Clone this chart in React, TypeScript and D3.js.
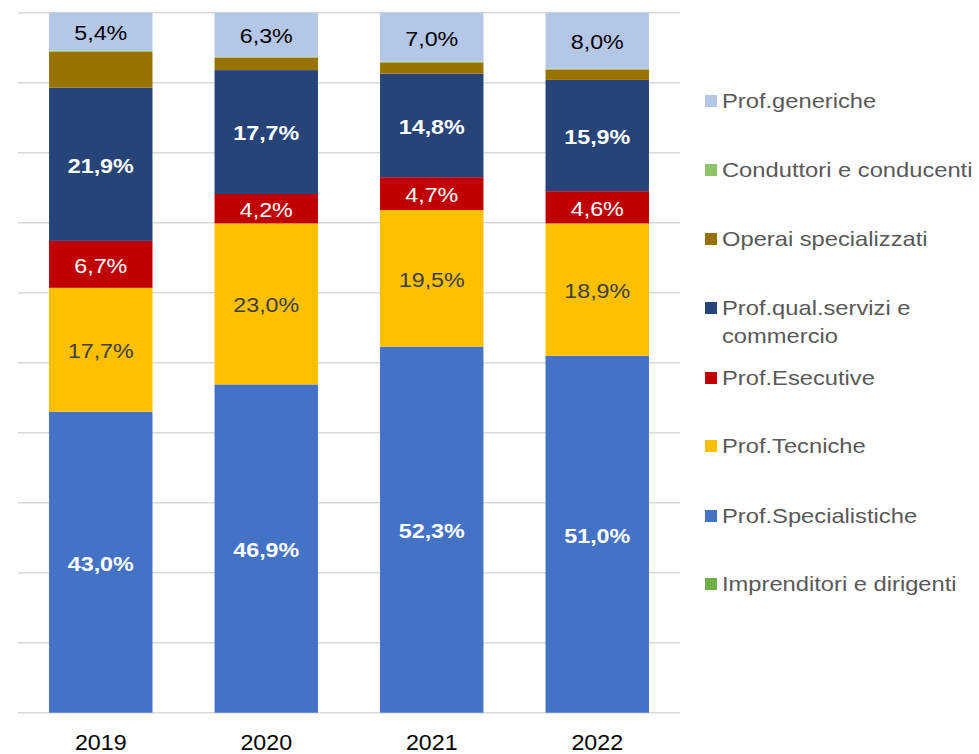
import React from "react";
import * as d3 from "d3";

const years = ["2019", "2020", "2021", "2022"];
const seriesNames = [
  "Imprenditori e dirigenti",
  "Prof.Specialistiche",
  "Prof.Tecniche",
  "Prof.Esecutive",
  "Prof.qual.servizi e commercio",
  "Operai specializzati",
  "Conduttori e conducenti",
  "Prof.generiche",
];
const imprenditori = [0.0, 0.0, 0.0, 0.0];
const specialistiche = [43.0, 46.9, 52.3, 51.0];
const tecniche = [17.7, 23.0, 19.5, 18.9];
const esecutive = [6.7, 4.2, 4.7, 4.6];
const servizi = [21.9, 17.7, 14.8, 15.9];
const operai = [5.1, 1.8, 1.6, 1.5];
const conduttori = [0.2, 0.1, 0.1, 0.1];
const generiche = [5.4, 6.3, 7.0, 8.0];
const yTicks = [0, 10, 20, 30, 40, 50, 60, 70, 80, 90, 100];

const seriesValues = [imprenditori, specialistiche, tecniche, esecutive, servizi, operai, conduttori, generiche];
const colors = ["#70AD47", "#4472C4", "#FFC000", "#C00000", "#264478", "#997300", "#8FC36A", "#B4C7E7"];
const labelStyle: Record<number, { fill: string; weight: string }> = {
  1: { fill: "#FFFFFF", weight: "bold" },
  2: { fill: "#404040", weight: "normal" },
  3: { fill: "#FFFFFF", weight: "normal" },
  4: { fill: "#FFFFFF", weight: "bold" },
  7: { fill: "#000000", weight: "normal" },
};

const legendOrder = [7, 6, 5, 4, 3, 2, 1, 0];
const legendY = [101, 170, 239, 308, 378, 446, 516, 584];

function SText(props: {
  x: number; y: number; s: number; anchor?: string; size: number; fill: string; weight?: string; children: React.ReactNode;
}) {
  return (
    <text
      transform={`translate(${props.x},${props.y}) scale(${props.s},1)`}
      dy="0.35em"
      textAnchor={props.anchor || "start"}
      fontSize={props.size}
      fill={props.fill}
      fontWeight={props.weight || "normal"}
    >
      {props.children}
    </text>
  );
}

export default function App() {
  const W = 979, H = 754;
  const left = 18, right = 680, top = 12.7, bottom = 712.7;
  const x = d3.scaleBand<string>().domain(years).range([left, right]).paddingInner(0.375).paddingOuter(0.1875);
  const y = d3.scaleLinear().domain([0, 100]).range([bottom, top]);

  const table = years.map((yr, i) => {
    const row: Record<string, number | string> = { year: yr };
    seriesNames.forEach((s, k) => (row[s] = seriesValues[k][i]));
    return row;
  });
  const stacked = d3.stack<Record<string, number | string>>().keys(seriesNames)(table as any);
  const font = "'Liberation Sans', Arial, sans-serif";

  return (
    <svg width={W} height={H} style={{ position: "absolute", left: 0, top: 0 }} fontFamily={font}>
      {yTicks.map((t) => (
        <line key={t} x1={left} x2={right} y1={y(t)} y2={y(t)} stroke="#D9D9D9" strokeWidth={1.5} />
      ))}
      {stacked.map((layer, k) => (
        <g key={k} fill={colors[k]}>
          {layer.map((d, i) => {
            const h = y(d[0]) - y(d[1]);
            if (h <= 0) return null;
            return <rect key={i} x={x(years[i])} width={x.bandwidth()} y={y(d[1])} height={h} />;
          })}
        </g>
      ))}
      {stacked.map((layer, k) =>
        labelStyle[k]
          ? layer.map((d, i) => (
              <SText
                key={`${k}-${i}`}
                x={(x(years[i]) as number) + x.bandwidth() / 2}
                y={(y(d[0]) + y(d[1])) / 2 + 1}
                s={1.11}
                anchor="middle"
                size={21}
                fill={labelStyle[k].fill}
                weight={labelStyle[k].weight}
              >
                {seriesValues[k][i].toFixed(1).replace(".", ",")}%
              </SText>
            ))
          : null
      )}
      {years.map((yr) => (
        <SText key={yr} x={(x(yr) as number) + x.bandwidth() / 2} y={742.5} s={1.08} anchor="middle" size={21.5} fill="#000">
          {yr}
        </SText>
      ))}
      {legendOrder.map((k, j) => {
        const cy = legendY[j];
        const name = seriesNames[k];
        const lines = name === "Prof.qual.servizi e commercio" ? ["Prof.qual.servizi e", "commercio"] : [name];
        return (
          <g key={k}>
            <rect x={705} y={cy - 6} width={12} height={12} fill={colors[k]} />
            {lines.map((ln, li) => (
              <SText key={li} x={722} y={cy + li * 28} s={1.13} size={21} fill="#595959">
                {ln}
              </SText>
            ))}
          </g>
        );
      })}
    </svg>
  );
}
